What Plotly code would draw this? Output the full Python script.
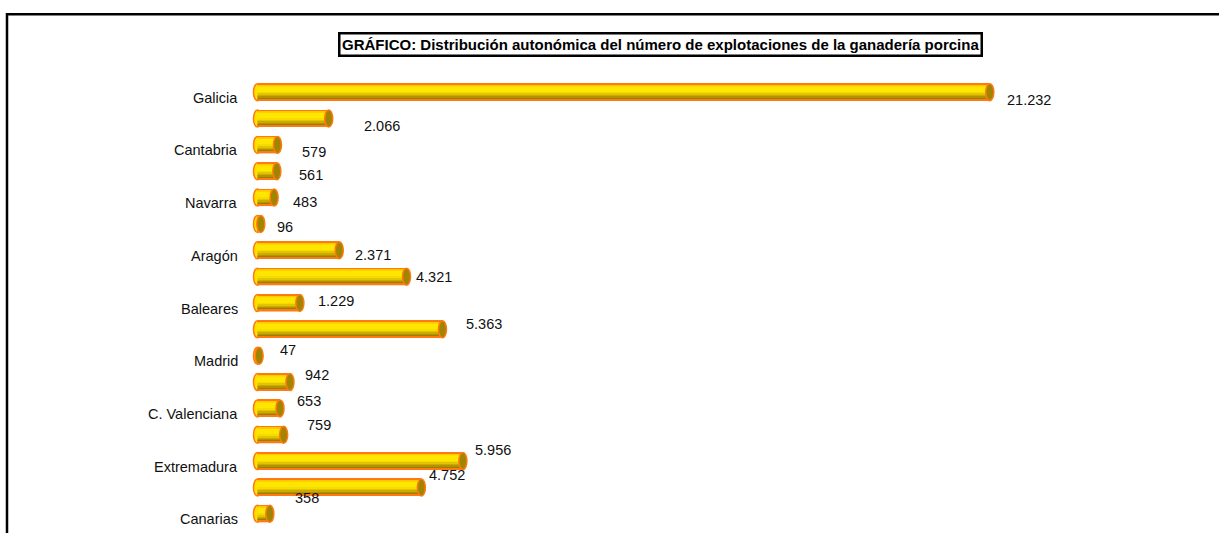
import plotly.graph_objects as go

# Explotaciones de ganadería porcina por comunidad autónoma
regions = ["Galicia", "Asturias", "Cantabria", "País Vasco", "Navarra", "La Rioja",
           "Aragón", "Cataluña", "Baleares", "Castilla y León", "Madrid",
           "Castilla-La Mancha", "C. Valenciana", "Murcia", "Extremadura",
           "Andalucía", "Canarias"]
farms = [21232, 2066, 579, 561, 483, 96, 2371, 4321, 1229, 5363, 47, 942, 653,
         759, 5956, 4752, 358]
shown_labels = ["Galicia", "Cantabria", "Navarra", "Aragón", "Baleares", "Madrid",
                "C. Valenciana", "Extremadura", "Canarias"]

# label offsets in px (dx from bar end, dy from bar centre, screen down positive)
label_dx = [11, 29, 19, 16, 13, 10, 10, 3, 12, 18, 15, 9, 11, 17, 6, 2, 19]
label_dy = [8, 7.5, 7, 4, 4.5, 3, 4.5, 0, -2, -5, -6, -7, -7, -10, -11, -12.6, -16]

FONT = "Liberation Sans, Arial, sans-serif"
BAR_W = 0.645
PX_PER_UNIT = 900 / 26094
CAP = 4 / PX_PER_UNIT  # half width of the cylinder end, in data units

ypos = list(range(len(regions)))

# cylinder body as horizontal colour strips (top -> bottom)
strips = [
    (0.00, 0.09, "#FF7A10"),
    (0.09, 0.16, "#FFC800"),
    (0.16, 0.50, "#FFE600"),
    (0.50, 0.60, "#F5DC00"),
    (0.60, 0.70, "#E3C400"),
    (0.70, 0.78, "#CCAA00"),
    (0.78, 0.85, "#B39200"),
    (0.85, 0.91, "#9A7E00"),
    (0.91, 1.00, "#FF7A10"),
]

fig = go.Figure()
for a, b, col in strips:
    fig.add_trace(go.Bar(
        x=farms, y=ypos, orientation="h",
        width=(b - a) * BAR_W, offset=-BAR_W / 2 + a * BAR_W,
        marker=dict(color=col, line=dict(width=0)),
        hoverinfo="skip", showlegend=False
    ))

shapes = []
for i, v in enumerate(farms):
    # left end
    shapes.append(dict(type="circle", xref="x", yref="y", layer="below",
                       x0=-CAP, x1=CAP, y0=i - BAR_W / 2, y1=i + BAR_W / 2,
                       fillcolor="#FFE000", line=dict(color="#FF7A10", width=1.5)))
    # right end
    shapes.append(dict(type="circle", xref="x", yref="y", layer="above",
                       x0=v - CAP, x1=v + CAP, y0=i - BAR_W / 2, y1=i + BAR_W / 2,
                       fillcolor="#A08600", line=dict(color="#FF7A10", width=1.5)))

# outer frame (right and bottom run off the page)
shapes.append(dict(type="rect", xref="paper", yref="paper",
                   x0=(7 - 250) / 900, x1=1.1, y0=-0.05, y1=(527.2 - 14.5) / 448,
                   line=dict(color="black", width=2.5), fillcolor="rgba(0,0,0,0)"))

annotations = []
for i, name in enumerate(regions):
    if name in shown_labels:
        annotations.append(dict(x=0, xref="paper", y=i, yref="y", text=name,
                                xanchor="right", yanchor="middle", xshift=-10, yshift=-5.5,
                                showarrow=False, font=dict(family=FONT, size=14.5, color="#111")))
for i, v in enumerate(farms):
    annotations.append(dict(x=v, xref="x", y=i, yref="y",
                            text=f"{v:,}".replace(",", "."),
                            xanchor="left", yanchor="middle",
                            xshift=CAP * PX_PER_UNIT + label_dx[i], yshift=-label_dy[i],
                            showarrow=False, font=dict(family=FONT, size=14.5, color="#111")))

annotations.append(dict(
    x=(660.5 - 250) / 900, y=(527.2 - 45) / 448, xref="paper", yref="paper",
    text="<b>GRÁFICO: Distribución autonómica del número de explotaciones de la ganadería porcina</b>",
    showarrow=False, xanchor="center", yanchor="middle",
    bordercolor="black", borderwidth=2.5, borderpad=1.5, bgcolor="white",
    font=dict(family=FONT, size=15, color="black")
))

fig.update_xaxes(range=[-217, 25877], visible=False, fixedrange=True)
fig.update_yaxes(range=[16.5, -0.5], visible=False, fixedrange=True)

fig.update_layout(
    template="none",
    width=1219, height=533,
    margin=dict(l=250, r=69, t=79, b=6),
    barmode="overlay",
    paper_bgcolor="white", plot_bgcolor="white",
    shapes=shapes, annotations=annotations,
    showlegend=False
)

fig.write_html("out.html", config={"displayModeBar": False},
               post_script="document.body.style.margin='0';document.body.style.overflow='hidden';")
